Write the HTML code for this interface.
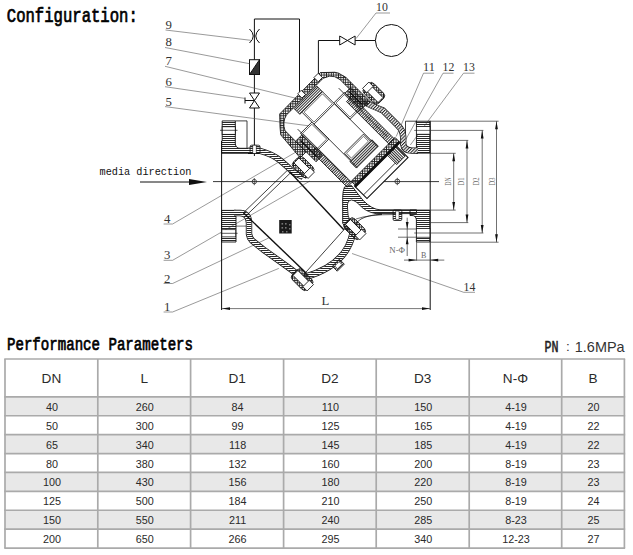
<!DOCTYPE html>
<html><head><meta charset="utf-8"><style>
html,body{margin:0;padding:0;background:#fff;width:633px;height:555px;overflow:hidden}
svg{position:absolute;left:0;top:0}
.th{font-family:"Liberation Sans",sans-serif;font-size:13.6px;fill:#2a2a2a;text-anchor:middle}
.td{font-family:"Liberation Sans",sans-serif;font-size:10.8px;fill:#2a2a2a;text-anchor:middle}
.hd{font-family:"Liberation Mono",monospace;font-weight:normal;fill:#000;stroke:#000;stroke-width:0.55px}
.num{font-family:"Liberation Serif",serif;font-size:12.8px;fill:#333}
.mono{font-family:"Liberation Mono",monospace;fill:#111}
</style></head><body>
<svg width="633" height="555" viewBox="0 0 633 555">
<text class="hd" x="6.8" y="22" font-size="15" transform="translate(0,22) scale(1,1.36) translate(0,-22)" textLength="131" lengthAdjust="spacingAndGlyphs">Configuration:</text>
<text class="hd" x="7" y="350.5" font-size="14" transform="translate(0,350.5) scale(1,1.25) translate(0,-350.5)" textLength="186" lengthAdjust="spacingAndGlyphs">Performance Parameters</text>
<text class="hd" x="544.5" y="351.6" font-size="13" transform="translate(0,351.6) scale(1,1.22) translate(0,-351.6)" style="fill:#222;stroke:#222;stroke-width:0.45px" textLength="14" lengthAdjust="spacingAndGlyphs">PN</text>
<text x="566" y="351.4" font-family="Liberation Sans" font-size="13.5" fill="#333">:</text>
<text x="574.8" y="351.6" font-family="Liberation Sans" font-size="14.3" fill="#333" textLength="49.8" lengthAdjust="spacingAndGlyphs">1.6MPa</text>
<rect x="5" y="396.85" width="619.40" height="18.90" fill="#e8e8e8"/>
<rect x="5" y="434.65" width="619.40" height="18.90" fill="#e8e8e8"/>
<rect x="5" y="472.45" width="619.40" height="18.90" fill="#e8e8e8"/>
<rect x="5" y="510.25" width="619.40" height="18.90" fill="#e8e8e8"/>
<line x1="4.25" y1="359.00" x2="625.15" y2="359.00" stroke="#aaaaaa" stroke-width="1.7"/>
<line x1="4.25" y1="396.85" x2="625.15" y2="396.85" stroke="#aaaaaa" stroke-width="1.7"/>
<line x1="4.25" y1="415.75" x2="625.15" y2="415.75" stroke="#aaaaaa" stroke-width="1.7"/>
<line x1="4.25" y1="434.65" x2="625.15" y2="434.65" stroke="#aaaaaa" stroke-width="1.7"/>
<line x1="4.25" y1="453.55" x2="625.15" y2="453.55" stroke="#aaaaaa" stroke-width="1.7"/>
<line x1="4.25" y1="472.45" x2="625.15" y2="472.45" stroke="#aaaaaa" stroke-width="1.7"/>
<line x1="4.25" y1="491.35" x2="625.15" y2="491.35" stroke="#aaaaaa" stroke-width="1.7"/>
<line x1="4.25" y1="510.25" x2="625.15" y2="510.25" stroke="#aaaaaa" stroke-width="1.7"/>
<line x1="4.25" y1="529.15" x2="625.15" y2="529.15" stroke="#aaaaaa" stroke-width="1.7"/>
<line x1="4.25" y1="548.05" x2="625.15" y2="548.05" stroke="#aaaaaa" stroke-width="1.7"/>
<line x1="5" y1="359" x2="5" y2="548.05" stroke="#aaaaaa" stroke-width="1.7"/>
<line x1="97.8" y1="359" x2="97.8" y2="548.05" stroke="#aaaaaa" stroke-width="1.7"/>
<line x1="190.6" y1="359" x2="190.6" y2="548.05" stroke="#aaaaaa" stroke-width="1.7"/>
<line x1="283.6" y1="359" x2="283.6" y2="548.05" stroke="#aaaaaa" stroke-width="1.7"/>
<line x1="376.2" y1="359" x2="376.2" y2="548.05" stroke="#aaaaaa" stroke-width="1.7"/>
<line x1="469.2" y1="359" x2="469.2" y2="548.05" stroke="#aaaaaa" stroke-width="1.7"/>
<line x1="561.7" y1="359" x2="561.7" y2="548.05" stroke="#aaaaaa" stroke-width="1.7"/>
<line x1="624.4" y1="359" x2="624.4" y2="548.05" stroke="#aaaaaa" stroke-width="1.7"/>
<text x="51.40" y="383" class="th">DN</text>
<text x="144.20" y="383" class="th">L</text>
<text x="237.10" y="383" class="th">D1</text>
<text x="329.90" y="383" class="th">D2</text>
<text x="422.70" y="383" class="th">D3</text>
<text x="515.45" y="383" class="th">N-Φ</text>
<text x="593.05" y="383" class="th">B</text>
<text x="51.90" y="410.80" class="td">40</text>
<text x="144.70" y="410.80" class="td">260</text>
<text x="237.60" y="410.80" class="td">84</text>
<text x="330.40" y="410.80" class="td">110</text>
<text x="423.20" y="410.80" class="td">150</text>
<text x="515.95" y="410.80" class="td">4-19</text>
<text x="593.55" y="410.80" class="td">20</text>
<text x="51.90" y="429.70" class="td">50</text>
<text x="144.70" y="429.70" class="td">300</text>
<text x="237.60" y="429.70" class="td">99</text>
<text x="330.40" y="429.70" class="td">125</text>
<text x="423.20" y="429.70" class="td">165</text>
<text x="515.95" y="429.70" class="td">4-19</text>
<text x="593.55" y="429.70" class="td">22</text>
<text x="51.90" y="448.60" class="td">65</text>
<text x="144.70" y="448.60" class="td">340</text>
<text x="237.60" y="448.60" class="td">118</text>
<text x="330.40" y="448.60" class="td">145</text>
<text x="423.20" y="448.60" class="td">185</text>
<text x="515.95" y="448.60" class="td">4-19</text>
<text x="593.55" y="448.60" class="td">22</text>
<text x="51.90" y="467.50" class="td">80</text>
<text x="144.70" y="467.50" class="td">380</text>
<text x="237.60" y="467.50" class="td">132</text>
<text x="330.40" y="467.50" class="td">160</text>
<text x="423.20" y="467.50" class="td">200</text>
<text x="515.95" y="467.50" class="td">8-19</text>
<text x="593.55" y="467.50" class="td">23</text>
<text x="51.90" y="486.40" class="td">100</text>
<text x="144.70" y="486.40" class="td">430</text>
<text x="237.60" y="486.40" class="td">156</text>
<text x="330.40" y="486.40" class="td">180</text>
<text x="423.20" y="486.40" class="td">220</text>
<text x="515.95" y="486.40" class="td">8-19</text>
<text x="593.55" y="486.40" class="td">23</text>
<text x="51.90" y="505.30" class="td">125</text>
<text x="144.70" y="505.30" class="td">500</text>
<text x="237.60" y="505.30" class="td">184</text>
<text x="330.40" y="505.30" class="td">210</text>
<text x="423.20" y="505.30" class="td">250</text>
<text x="515.95" y="505.30" class="td">8-19</text>
<text x="593.55" y="505.30" class="td">24</text>
<text x="51.90" y="524.20" class="td">150</text>
<text x="144.70" y="524.20" class="td">550</text>
<text x="237.60" y="524.20" class="td">211</text>
<text x="330.40" y="524.20" class="td">240</text>
<text x="423.20" y="524.20" class="td">285</text>
<text x="515.95" y="524.20" class="td">8-23</text>
<text x="593.55" y="524.20" class="td">25</text>
<text x="51.90" y="543.10" class="td">200</text>
<text x="144.70" y="543.10" class="td">650</text>
<text x="237.60" y="543.10" class="td">266</text>
<text x="330.40" y="543.10" class="td">295</text>
<text x="423.20" y="543.10" class="td">340</text>
<text x="515.95" y="543.10" class="td">12-23</text>
<text x="593.55" y="543.10" class="td">27</text>
<defs>
<pattern id="h" width="2.3" height="2.3" patternUnits="userSpaceOnUse" patternTransform="rotate(45)"><rect width="2.3" height="1.05" fill="#222"/></pattern>
<pattern id="h2" width="2.3" height="2.3" patternUnits="userSpaceOnUse" patternTransform="rotate(-45)"><rect width="2.3" height="1.05" fill="#222"/></pattern>
<pattern id="hh" width="2" height="2" patternUnits="userSpaceOnUse"><rect width="2" height="1" fill="#2a2a2a"/></pattern>
<pattern id="xh" width="2.4" height="2.4" patternUnits="userSpaceOnUse" patternTransform="rotate(45)"><rect width="2.4" height="0.9" fill="#222"/><rect width="0.9" height="2.4" fill="#222"/></pattern>
<pattern id="hv" width="2" height="2" patternUnits="userSpaceOnUse"><rect width="0.95" height="2" fill="#222"/></pattern>
<pattern id="mesh" width="2" height="2" patternUnits="userSpaceOnUse"><rect width="1" height="1" fill="#000"/><rect x="1" y="1" width="1" height="1" fill="#000"/></pattern>
</defs>
<g fill="none" stroke="#111" stroke-width="1">
<polyline points="254.4,156 254.4,19 299.5,19 299.5,92"/>
<polyline points="318.4,78 318.4,40.5 375.4,40.5"/>
<circle cx="391.4" cy="40.5" r="16"/>
<path d="M339.7,36 L355.1,45 L355.1,36 L339.7,45 Z" fill="#fff"/>
<path d="M249.5,29 Q257,36 249.5,43 M259.5,29 Q252,36 259.5,43"/>
<rect x="249.5" y="59.7" width="10" height="14.8" fill="#fff"/>
<path d="M259.5,59.7 L259.5,74.5 L249.5,74.5 Z" fill="#333"/>
<path d="M249.5,93 L259.5,93 L249.5,108 L259.5,108 Z" fill="#fff"/>
<line x1="245" y1="100.5" x2="254" y2="100.5"/>
<line x1="245" y1="97.5" x2="245" y2="103.5"/>
</g>
<g fill="none" stroke="#555" stroke-width="0.6">
<polyline points="165.5,30 250.7,40.3"/>
<polyline points="165,47.5 249.5,63.7"/>
<polyline points="165,66.3 303,100"/>
<polyline points="165,86.7 244.9,98.4"/>
<polyline points="165,106.6 310,126"/>
<polyline points="390,13 376,13 356,38.6"/>
<polyline points="434,73.2 423.5,73.2 396.2,136.5"/>
<polyline points="453.5,73.2 443,73.2 403.8,143"/>
<polyline points="474.5,73.2 463.5,73.2 410.3,145"/>
<polyline points="163.6,224 172.6,224 296,152"/>
<polyline points="163.6,260.3 172.6,260.3 310,181"/>
<polyline points="163.6,283.5 172.6,283.5 268.7,238"/>
<polyline points="163.6,312 172.6,312 278.8,268.4"/>
<polyline points="475,292.3 463.7,292.3 352,253.5"/>
</g>
<g class="num">
<text x="165.5" y="29">9</text>
<text x="165.5" y="45.8">8</text>
<text x="165.5" y="64.5">7</text>
<text x="165.5" y="85.5">6</text>
<text x="165.5" y="106">5</text>
<text x="376" y="11.3" textLength="11.8" lengthAdjust="spacingAndGlyphs">10</text>
<text x="423" y="70.8" textLength="11.8" lengthAdjust="spacingAndGlyphs">11</text>
<text x="442.5" y="70.8" textLength="11.8" lengthAdjust="spacingAndGlyphs">12</text>
<text x="463" y="70.8" textLength="11.8" lengthAdjust="spacingAndGlyphs">13</text>
<text x="164" y="223">4</text>
<text x="164" y="258.6">3</text>
<text x="164" y="282.8">2</text>
<text x="164" y="310.6">1</text>
<text x="463.5" y="290.6" textLength="11.8" lengthAdjust="spacingAndGlyphs">14</text>
</g>
<text class="mono" x="99.5" y="175" font-size="10.2" textLength="92" lengthAdjust="spacingAndGlyphs">media direction</text>
<line x1="140" y1="182" x2="195" y2="182" stroke="#111" stroke-width="1"/>
<path d="M189,179 L207,182 L189,185 Z" fill="#111"/>
<line x1="213" y1="181.6" x2="439" y2="181.6" stroke="#222" stroke-width="0.9"/>
<circle cx="254.3" cy="181.6" r="2.2" fill="none" stroke="#222" stroke-width="0.8"/><line x1="254.3" y1="178" x2="254.3" y2="185.2" stroke="#222" stroke-width="0.7"/>
<circle cx="397.3" cy="181.5" r="2.4" fill="none" stroke="#222" stroke-width="0.8"/><line x1="397.3" y1="177.8" x2="397.3" y2="185.2" stroke="#222" stroke-width="0.7"/>
<g stroke="#111" stroke-width="1" fill="none">
<line x1="221.6" y1="141" x2="221.6" y2="310"/>
<line x1="430.2" y1="120.9" x2="430.2" y2="310"/>
</g>
<line x1="222" y1="308.6" x2="430" y2="308.6" stroke="#555" stroke-width="0.8"/>
<path d="M222,308.6 L230,307.2 L230,310 Z M430,308.6 L422,307.2 L422,310 Z" fill="#111"/>
<text class="num" x="321.5" y="305" font-size="9" fill="#555">L</text>
<g stroke="#111" stroke-width="0.9">
<path d="M222.2,120.9 L235.3,120.9 L235.3,144 Q236,148.3 240,148.3 L250,148.3 L250,153.3 L221.6,153.3 L221.6,141 L222.2,141 Z" fill="url(#hh)"/>
<rect x="222.2" y="126.7" width="13.1" height="7.7" fill="#fff"/>
<line x1="220" y1="130.3" x2="237.5" y2="130.3" stroke-width="0.7"/>
<polyline points="235.3,120.9 247,120.9 247,148.3" fill="none" stroke-width="0.8"/>
</g>
<path d="M248,150.8 L259.7,150.8 Q272,154 280.3,160.5 Q287,166 293.2,172.4 L303,177" fill="none" stroke="#111" stroke-width="6.20" stroke-linejoin="round" />
<path d="M248,150.8 L259.7,150.8 Q272,154 280.3,160.5 Q287,166 293.2,172.4 L303,177" fill="none" stroke="#fff" stroke-width="4.60" stroke-linejoin="round" />
<path d="M248,150.8 L259.7,150.8 Q272,154 280.3,160.5 Q287,166 293.2,172.4 L303,177" fill="none" stroke="url(#hh)" stroke-width="4.60" stroke-linejoin="round" />
<rect x="250.1" y="145.2" width="9.9" height="8.1" rx="1.5" fill="url(#hh)" stroke="#111" stroke-width="0.8"/>
<rect x="252.8" y="145.2" width="3.4" height="8.1" fill="#fff" stroke="#111" stroke-width="0.6"/>
<g stroke="#111" stroke-width="0.9">
<path d="M221.6,210.4 L236,210.4 L236,242 L221.6,242 Z" fill="url(#hh)"/>
<rect x="221.9" y="229.7" width="13.8" height="7.2" fill="#fff" stroke-width="0.7"/>
<line x1="220.7" y1="233.3" x2="237.6" y2="233.3" stroke-width="0.7"/>
<line x1="235.8" y1="226.1" x2="246.2" y2="226.1" stroke-width="0.6"/>
</g>
<path d="M234,213 L240,213 Q249,213.5 249,223 L249,234 Q249.5,238 252,240.5 L263,249.3 L291.4,269.6 L300,276" fill="none" stroke="#111" stroke-width="6.40" stroke-linejoin="round" />
<path d="M234,213 L240,213 Q249,213.5 249,223 L249,234 Q249.5,238 252,240.5 L263,249.3 L291.4,269.6 L300,276" fill="none" stroke="#fff" stroke-width="4.80" stroke-linejoin="round" />
<path d="M234,213 L240,213 Q249,213.5 249,223 L249,234 Q249.5,238 252,240.5 L263,249.3 L291.4,269.6 L300,276" fill="none" stroke="url(#hh)" stroke-width="4.80" stroke-linejoin="round" />
<g stroke="#111" fill="none">
<path d="M289.5,171.6 L343.8,229.7" stroke-width="1.4"/>
<path d="M243.4,212.8 L306.6,273.4" stroke-width="1.4"/>
<path d="M287.2,170.5 L243.4,212.8 M290,173.3 L246.2,215.6" stroke-width="0.8"/>
</g>
<rect x="279.2" y="220" width="12.5" height="13.5" fill="#1a1a1a"/><g fill="#777"><rect x="281.5" y="223" width="1.6" height="1.6"/><rect x="285" y="223" width="1.6" height="1.6"/><rect x="281.5" y="227" width="1.6" height="1.6"/><rect x="285" y="227" width="1.6" height="1.6"/><rect x="289" y="224" width="1.5" height="1.5"/><rect x="289" y="228" width="1.5" height="1.5"/><rect x="282" y="231" width="1.5" height="1.5"/><rect x="286" y="231" width="1.5" height="1.5"/></g>
<path d="M353,232 Q347,265 305,277" fill="none" stroke="#111" stroke-width="6.80" stroke-linejoin="round" />
<path d="M353,232 Q347,265 305,277" fill="none" stroke="#fff" stroke-width="5.20" stroke-linejoin="round" />
<path d="M353,232 Q347,265 305,277" fill="none" stroke="url(#hh)" stroke-width="5.20" stroke-linejoin="round" />
<path d="M345.4,228.1 L302.5,276" stroke="#111" stroke-width="0.8"/>
<g transform="translate(338.3,265.2) rotate(-45)"><rect x="-5" y="-3.5" width="10" height="7" fill="url(#hh)" stroke="#111" stroke-width="0.8"/><rect x="-3" y="-2" width="6" height="4" fill="#fff" stroke="#111" stroke-width="0.5"/></g>
<path d="M344.5,187 Q342.7,191 342.7,197.3 L342.7,223.2 L347,230.8 L356,226 Q357,221 359,219 Q362,216 368,214 L380,213.6 L416.5,213.6 L416.5,209.8 L380,209.8 Q372,209.5 363.2,200.5 Q357,193 351.5,185.5 Z" fill="url(#hh)" stroke="#111" stroke-width="0.9"/>
<path d="M350,221 Q347.5,216 347.5,208 L347.5,204 Q348,200 351.5,200 Q356,200.5 362,207.5 Q370,214 382,214.2 Q368,215 361,219 Q357,222 355,224 Z" fill="#fff" stroke="#111" stroke-width="0.8"/>
<path d="M356,219 Q368,214.5 395,214.5" fill="none" stroke="#111" stroke-width="0.6"/>
<g stroke="#111" stroke-width="0.9">
<path d="M410,210.1 L429.9,210.1 L429.9,242 L416.4,242 L416.4,220 Q416,215.5 412,215.5 L410,215.5 Z" fill="url(#hh)"/>
<rect x="416.4" y="228.5" width="13.5" height="8.7" fill="#fff" stroke-width="0.7"/>
<line x1="414.2" y1="233" x2="430" y2="233" stroke-width="0.6"/>
</g>
<rect x="393.1" y="210" width="8.7" height="10.4" rx="1.2" fill="url(#hh)" stroke="#111" stroke-width="0.8"/>
<rect x="395.8" y="211" width="3.2" height="8.5" fill="#fff" stroke="#111" stroke-width="0.5"/>
<g stroke="#111" stroke-width="0.9">
<rect x="416.4" y="121.2" width="13.5" height="31.9" fill="url(#hh)"/>
<rect x="416.4" y="126.6" width="13.5" height="7.6" fill="#fff" stroke-width="0.7"/>
<line x1="414.2" y1="130.4" x2="430" y2="130.4" stroke-width="0.6"/>
<polyline points="416.4,121.2 405.5,121.2 405.5,145" fill="none" stroke-width="0.8"/>
</g>
<path d="M364,102 Q369,104.5 383,110.5 L397.5,125 Q403.2,130.5 403.2,137 L403.2,144 Q404,150.6 412,150.6 L418,150.6" fill="none" stroke="#111" stroke-width="6.40" stroke-linejoin="round" />
<path d="M364,102 Q369,104.5 383,110.5 L397.5,125 Q403.2,130.5 403.2,137 L403.2,144 Q404,150.6 412,150.6 L418,150.6" fill="none" stroke="#fff" stroke-width="4.80" stroke-linejoin="round" />
<path d="M364,102 Q369,104.5 383,110.5 L397.5,125 Q403.2,130.5 403.2,137 L403.2,144 Q404,150.6 412,150.6 L418,150.6" fill="none" stroke="url(#h2)" stroke-width="4.80" stroke-linejoin="round" />
<g transform="translate(302.5,280) rotate(45)">
<rect x="-11.0" y="-7.0" width="21" height="14" rx="4" fill="url(#xh)" stroke="#111" stroke-width="0.8"/>
<rect x="-10.0" y="-3.5" width="20" height="7" fill="#fff" stroke="#111" stroke-width="0.9"/>
<rect x="5.0" y="-4.5" width="6" height="9" fill="#fff" stroke="#111" stroke-width="0.8"/>
</g>
<g transform="translate(355,229) rotate(45)">
<rect x="-11.0" y="-7.0" width="21" height="14" rx="4" fill="url(#xh)" stroke="#111" stroke-width="0.8"/>
<rect x="-10.0" y="-3.5" width="20" height="7" fill="#fff" stroke="#111" stroke-width="0.9"/>
<rect x="5.0" y="-4.5" width="6" height="9" fill="#fff" stroke="#111" stroke-width="0.8"/>
</g>
<g transform="translate(303.5,167.5) rotate(45)">
<rect x="-11.0" y="-7.0" width="21" height="14" rx="4" fill="url(#xh)" stroke="#111" stroke-width="0.8"/>
<rect x="-10.0" y="-3.5" width="20" height="7" fill="#fff" stroke="#111" stroke-width="0.9"/>
<rect x="5.0" y="-4.5" width="6" height="9" fill="#fff" stroke="#111" stroke-width="0.8"/>
</g>
<g transform="translate(373.5,93) rotate(-135)">
<rect x="-11.0" y="-7.0" width="21" height="14" rx="4" fill="url(#xh)" stroke="#111" stroke-width="0.8"/>
<rect x="-10.0" y="-3.5" width="20" height="7" fill="#fff" stroke="#111" stroke-width="0.9"/>
<rect x="5.0" y="-4.5" width="6" height="9" fill="#fff" stroke="#111" stroke-width="0.8"/>
</g>
<g transform="translate(367.7,161) rotate(45)" stroke="#111" stroke-width="0.8">
<path d="M-96,-29 L-86,-39.5 Q-83,-42 -79,-42.5 L-75,-43.7 L-40,-43.7 L-40,-38 L-77,-38 Q-84,-37 -87,-33 L-90,-27 L-90,25 Q-88,33 -80,37 L-50,37 L-50,45.5 L-80,43 L-86,38 L-95.5,29 Z" fill="url(#xh)"/>
<rect x="-97" y="-27" width="6" height="6" fill="#fff"/>
<rect x="-97" y="-3" width="6" height="5" fill="#fff"/>
<rect x="-89" y="-17" width="8" height="32" fill="url(#hv)"/>
<rect x="-81" y="-17" width="17" height="29" fill="#fff"/>
<rect x="-79.5" y="-15.5" width="14" height="26" fill="none" stroke-width="0.6"/>
<rect x="-64" y="-40" width="23" height="8" fill="url(#xh)"/>
<path d="M-62,-36 L-44,-36" stroke-width="1.6"/>
<rect x="-65" y="28" width="29" height="9" fill="url(#xh)"/>
<path d="M-62,33 L-40,33" stroke-width="1.6"/>
<rect x="-67" y="12" width="24" height="16" fill="#fff"/>
<rect x="-65.5" y="13.5" width="21" height="13" fill="none" stroke-width="0.6"/>
<rect x="-65" y="-32" width="23" height="15" fill="#fff"/>
<rect x="-63.5" y="-30.5" width="20" height="12" fill="none" stroke-width="0.6"/>
<line x1="-64" y1="-17" x2="-3" y2="-17"/>
<line x1="-64" y1="12" x2="-3" y2="12"/>
<line x1="-72" y1="-31" x2="-3" y2="-31"/>
<line x1="-72" y1="27" x2="-3" y2="27"/>
<rect x="-57" y="-34.5" width="60" height="7.5" fill="url(#hv)"/>
<rect x="-46" y="26.5" width="50" height="6.5" fill="url(#hv)"/>
<rect x="2.7" y="-36" width="6.2" height="62" fill="url(#xh)"/>
<rect x="-12" y="-18" width="9" height="31" fill="url(#hv)"/>
<rect x="-22" y="-16" width="10" height="27" fill="#fff"/>
<rect x="-20.5" y="-14.5" width="7" height="24" fill="none" stroke-width="0.6"/>
<rect x="9" y="-31" width="17" height="58" fill="#fff" stroke-width="1.1"/>
<rect x="10" y="-30" width="13" height="12" fill="url(#hh)"/>
<line x1="21" y1="-18" x2="21" y2="27"/>
<rect x="8" y="-36" width="2.2" height="63" fill="#111"/>
</g>
<g stroke="#333" stroke-width="0.7" fill="none">
<line x1="430.2" y1="121.2" x2="498.6" y2="121.2"/>
<line x1="430.2" y1="130.4" x2="483.4" y2="130.4"/>
<line x1="430.2" y1="140.4" x2="468.3" y2="140.4"/>
<line x1="430.2" y1="153.3" x2="455.7" y2="153.3"/>
<line x1="430.2" y1="210.1" x2="455.7" y2="210.1"/>
<line x1="430.2" y1="222.6" x2="468.3" y2="222.6"/>
<line x1="430.2" y1="233" x2="483.4" y2="233"/>
<line x1="430.2" y1="242.2" x2="498.6" y2="242.2"/>
<line x1="496.5" y1="121.2" x2="496.5" y2="242.2"/>
<line x1="482.2" y1="130.4" x2="482.2" y2="233"/>
<line x1="467" y1="140.4" x2="467" y2="222.6"/>
<line x1="453.7" y1="153.3" x2="453.7" y2="210.1"/>
<line x1="398" y1="229" x2="416.4" y2="229"/>
<line x1="398" y1="237.2" x2="416.4" y2="237.2"/>
<line x1="407.2" y1="217.7" x2="407.2" y2="256"/>
<line x1="404" y1="260.1" x2="444.3" y2="260.1"/>
<line x1="416.6" y1="242" x2="416.6" y2="260.6"/>
</g>
<g fill="#111">
<path d="M496.5,121.2 l-1.4,8 l2.8,0 Z M496.5,242.2 l-1.4,-8 l2.8,0 Z"/>
<path d="M482.2,130.4 l-1.4,8 l2.8,0 Z M482.2,233 l-1.4,-8 l2.8,0 Z"/>
<path d="M467,140.4 l-1.4,8 l2.8,0 Z M467,222.6 l-1.4,-8 l2.8,0 Z"/>
<path d="M453.7,153.3 l-1.4,8 l2.8,0 Z M453.7,210.1 l-1.4,-8 l2.8,0 Z"/>
<path d="M407.2,229 l-1.4,-7 l2.8,0 Z M407.2,237.2 l-1.4,7 l2.8,0 Z"/>
<path d="M416.6,260.1 l-8,-1.4 l0,2.8 Z M430.2,260.1 l8,-1.4 l0,2.8 Z"/>
</g>
<g font-family="Liberation Serif" font-size="7.5" fill="#666">
<text transform="translate(451,181.4) rotate(-90)" text-anchor="middle" textLength="8.5" lengthAdjust="spacingAndGlyphs">DN</text>
<text transform="translate(464.3,181.4) rotate(-90)" text-anchor="middle" textLength="8" lengthAdjust="spacingAndGlyphs">D1</text>
<text transform="translate(479.3,181.4) rotate(-90)" text-anchor="middle" textLength="8" lengthAdjust="spacingAndGlyphs">D2</text>
<text transform="translate(494.5,181.4) rotate(-90)" text-anchor="middle" textLength="8" lengthAdjust="spacingAndGlyphs">D3</text>
<text x="389.3" y="253.4" font-size="7.5" textLength="15.7" lengthAdjust="spacingAndGlyphs">N-Φ</text>
<text x="421" y="258" font-size="8">B</text>
</g>
</svg>
</body></html>
